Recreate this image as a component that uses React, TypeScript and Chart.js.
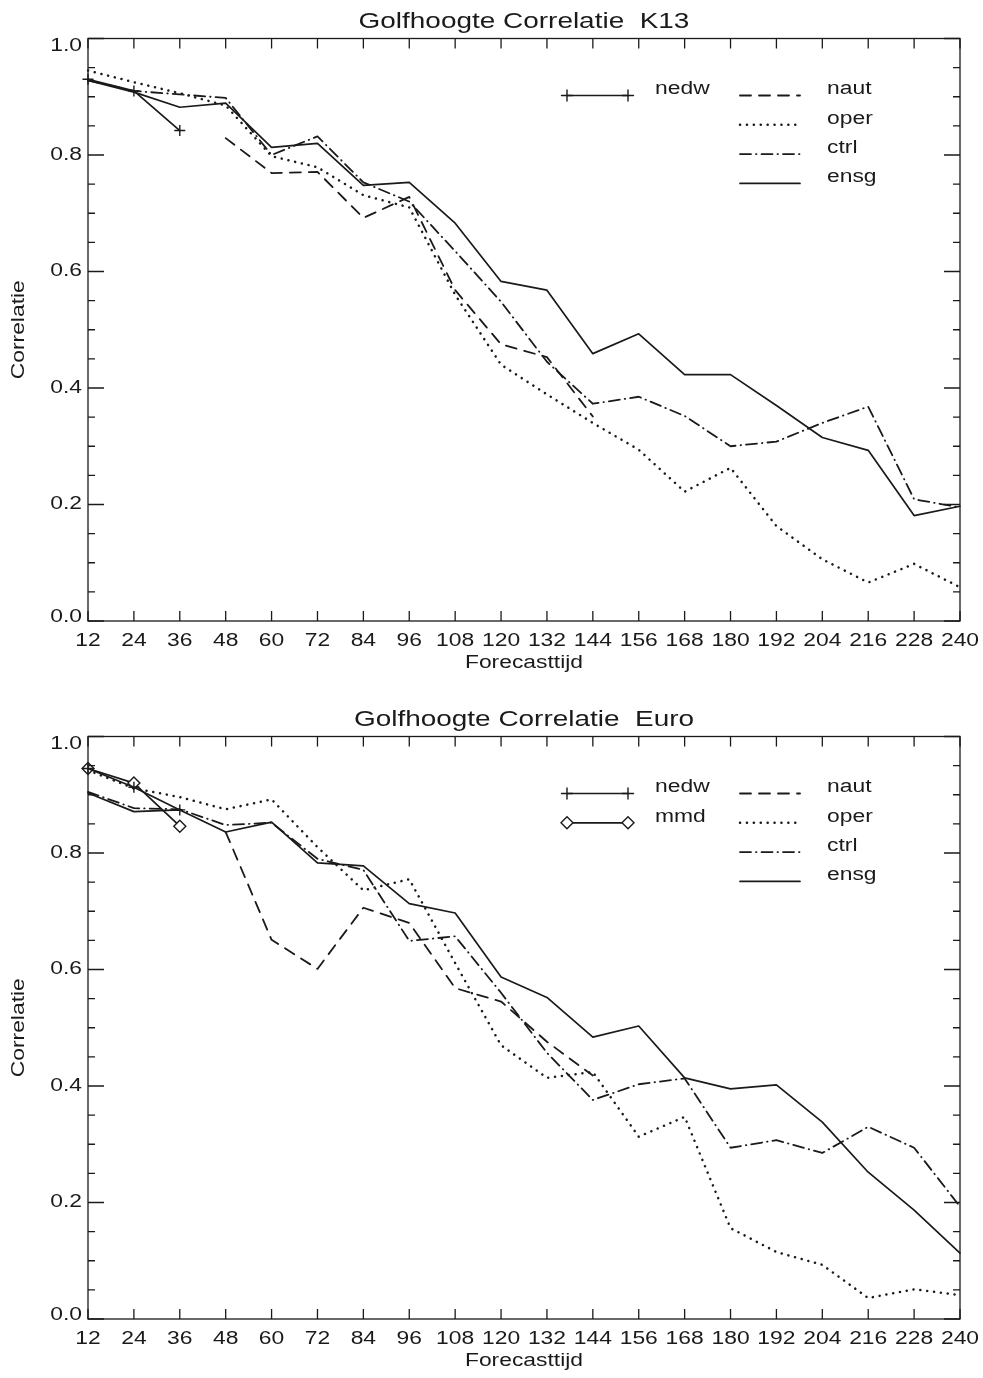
import React, { useEffect, useRef } from "react";
import { Chart, registerables } from "chart.js";

Chart.register(...registerables);

// ---------- data ----------
const hours = [12, 24, 36, 48, 60, 72, 84, 96, 108, 120, 132, 144, 156, 168, 180, 192, 204, 216, 228, 240];

const k13Nedw = [0.93, 0.91, 0.842];
const k13Naut = [null, null, null, 0.829, 0.769, 0.771, 0.692, 0.728, 0.568, 0.475, 0.453, 0.351];
const k13Oper = [0.945, 0.925, 0.906, 0.885, 0.798, 0.779, 0.731, 0.71, 0.56, 0.44, 0.389, 0.34, 0.294, 0.222, 0.263, 0.163, 0.106, 0.066, 0.098, 0.058];
const k13Ctrl = [0.928, 0.91, 0.904, 0.898, 0.8, 0.832, 0.753, 0.72, 0.635, 0.548, 0.445, 0.373, 0.385, 0.352, 0.3, 0.308, 0.34, 0.368, 0.209, 0.195];
const k13Ensg = [0.928, 0.908, 0.882, 0.889, 0.813, 0.82, 0.748, 0.753, 0.683, 0.583, 0.568, 0.459, 0.493, 0.423, 0.423, 0.37, 0.315, 0.293, 0.181, 0.197];

const euroNedw = [0.945, 0.913, 0.874];
const euroMmd = [0.945, 0.92, 0.846];
const euroNaut = [null, null, null, 0.836, 0.651, 0.601, 0.706, 0.68, 0.568, 0.545, 0.476, 0.418];
const euroOper = [0.942, 0.911, 0.896, 0.875, 0.892, 0.81, 0.736, 0.755, 0.611, 0.47, 0.414, 0.424, 0.313, 0.347, 0.156, 0.115, 0.093, 0.036, 0.051, 0.041];
const euroCtrl = [0.905, 0.877, 0.875, 0.848, 0.852, 0.79, 0.771, 0.649, 0.657, 0.56, 0.457, 0.376, 0.403, 0.413, 0.294, 0.307, 0.285, 0.33, 0.294, 0.193];
const euroEnsg = [0.903, 0.871, 0.874, 0.836, 0.853, 0.783, 0.778, 0.713, 0.697, 0.587, 0.552, 0.484, 0.503, 0.414, 0.395, 0.402, 0.338, 0.252, 0.187, 0.113];

const yMin = 0;
const yMax = 1;
const yMajorStep = 0.2;
const yMinorStep = 0.05;

// ---------- styles ----------
const INK = "#1a1a1a";
const FONT = '"Liberation Sans", Arial, Helvetica, sans-serif';
const STRETCH = 1.27;

const styles: Record<string, any> = {
  nedw: { borderDash: [], width: 1.7, pointStyle: "cross", pointRadius: 5.5, marker: true },
  mmd: { borderDash: [], width: 1.7, pointStyle: "rectRot", pointRadius: 6, marker: true },
  naut: { borderDash: [11, 8], width: 1.8, pointRadius: 0 },
  oper: { borderDash: [0.1, 6.8], width: 2.5, pointRadius: 0 },
  ctrl: { borderDash: [11, 5, 0.5, 5], width: 1.8, pointRadius: 0 },
  ensg: { borderDash: [], width: 1.7, pointRadius: 0 },
};

function makeDataset(label: string, data: (number | null)[]) {
  const s = styles[label];
  return {
    label,
    data,
    borderColor: INK,
    backgroundColor: "#ffffff",
    borderWidth: s.width,
    borderDash: s.borderDash,
    borderCapStyle: "round",
    borderJoinStyle: "round",
    pointStyle: s.pointStyle || "circle",
    pointRadius: s.pointRadius,
    pointBorderColor: INK,
    pointBackgroundColor: "#ffffff",
    pointBorderWidth: 1.4,
    tension: 0,
    spanGaps: false,
    fill: false,
    isMarker: !!s.marker,
  };
}

function stretchedText(
  ctx: CanvasRenderingContext2D,
  text: string,
  x: number,
  y: number,
  align: CanvasTextAlign,
  size: number,
  rotate = 0
) {
  ctx.save();
  ctx.translate(x, y);
  if (rotate) ctx.rotate(rotate);
  ctx.scale(STRETCH, 1);
  ctx.font = `${size}px ${FONT}`;
  ctx.fillStyle = INK;
  ctx.textAlign = align;
  ctx.textBaseline = "middle";
  ctx.fillText(text, 0, 0);
  ctx.restore();
}

function drawMarker(ctx: CanvasRenderingContext2D, style: string, x: number, y: number, r: number) {
  ctx.beginPath();
  if (style === "cross") {
    ctx.moveTo(x - r, y);
    ctx.lineTo(x + r, y);
    ctx.moveTo(x, y - r);
    ctx.lineTo(x, y + r);
    ctx.stroke();
  } else {
    ctx.moveTo(x, y - r);
    ctx.lineTo(x + r, y);
    ctx.lineTo(x, y + r);
    ctx.lineTo(x - r, y);
    ctx.closePath();
    ctx.fillStyle = "#ffffff";
    ctx.fill();
    ctx.stroke();
  }
}

const idlPlugin = {
  id: "idlFrame",
  afterDraw(chart: any, _args: any, opts: any) {
    const ctx: CanvasRenderingContext2D = chart.ctx;
    const { left, right, top, bottom } = chart.chartArea;
    const xs = chart.scales.x;
    const ys = chart.scales.y;

    ctx.save();
    ctx.strokeStyle = INK;
    ctx.lineWidth = 1.3;
    ctx.setLineDash([]);
    ctx.strokeRect(left, top, right - left, bottom - top);

    // ticks
    ctx.beginPath();
    xs.ticks.forEach((_t: any, i: number) => {
      const px = xs.getPixelForTick(i);
      ctx.moveTo(px, bottom);
      ctx.lineTo(px, bottom - 10);
      ctx.moveTo(px, top);
      ctx.lineTo(px, top + 10);
    });
    const nMinor = Math.round((ys.max - ys.min) / yMinorStep);
    const perMajor = Math.round(yMajorStep / yMinorStep);
    for (let k = 0; k <= nMinor; k++) {
      const py = ys.getPixelForValue(ys.min + k * yMinorStep);
      const len = k % perMajor === 0 ? 16 : 7;
      ctx.moveTo(left, py);
      ctx.lineTo(left + len, py);
      ctx.moveTo(right, py);
      ctx.lineTo(right - len, py);
    }
    ctx.stroke();

    // tick labels
    xs.ticks.forEach((_t: any, i: number) => {
      const px = xs.getPixelForTick(i);
      stretchedText(ctx, String(xs.getLabelForValue(i)), px, bottom + 20, "center", 18);
    });
    ys.ticks.forEach((t: any) => {
      const py = ys.getPixelForValue(t.value);
      const cy = Math.min(Math.max(py, top + 8), bottom - 4);
      stretchedText(ctx, Number(t.value).toFixed(1), left - 6, cy, "right", 18);
    });

    // titles
    const cx = (left + right) / 2;
    stretchedText(ctx, opts.title, cx, 22, "center", 22);
    stretchedText(ctx, "Forecasttijd", cx, bottom + 42, "center", 18);
    stretchedText(ctx, "Correlatie", 19, (top + bottom) / 2, "center", 18, -Math.PI / 2);

    // legend
    const rowGap = 29.3;
    const firstRow = top + 51;
    let r1 = 0;
    let r2 = 0;
    chart.data.datasets.forEach((ds: any) => {
      let row: number, x0: number, x1: number, tx: number;
      if (ds.isMarker) {
        row = r1++;
        x0 = left + 479;
        x1 = left + 540;
        tx = left + 567;
      } else {
        row = r2++;
        x0 = left + 652;
        x1 = left + 712;
        tx = left + 739;
      }
      const ty = firstRow + row * rowGap;
      const ly = ty + 6;
      ctx.save();
      ctx.strokeStyle = INK;
      ctx.lineWidth = ds.borderWidth;
      ctx.lineCap = "round";
      ctx.setLineDash(ds.borderDash || []);
      ctx.beginPath();
      ctx.moveTo(x0, ly);
      ctx.lineTo(x1, ly);
      ctx.stroke();
      ctx.setLineDash([]);
      ctx.lineWidth = 1.4;
      if (ds.isMarker) {
        drawMarker(ctx, ds.pointStyle, x0, ly, ds.pointRadius);
        drawMarker(ctx, ds.pointStyle, x1, ly, ds.pointRadius);
      }
      ctx.restore();
      stretchedText(ctx, ds.label, tx, ty, "left", 18);
    });

    ctx.restore();
  },
};

function CorrChart(props: { title: string; datasets: any[]; height: number; top: number }) {
  const ref = useRef<HTMLCanvasElement | null>(null);
  useEffect(() => {
    const canvas = ref.current!;
    const chart = new Chart(canvas, {
      type: "line",
      data: {
        labels: hours.map(String),
        datasets: props.datasets,
      },
      options: {
        responsive: false,
        animation: false,
        devicePixelRatio: 1,
        layout: {
          padding: { left: 88, right: 23, top: 38.5, bottom: props.height - 621 },
        },
        plugins: {
          legend: { display: false },
          tooltip: { enabled: false },
          title: { display: false },
          idlFrame: { title: props.title },
        } as any,
        scales: {
          x: {
            type: "category",
            offset: false,
            grid: { display: false },
            border: { display: false },
            ticks: { display: false, autoSkip: false },
            afterFit: (s: any) => {
              s.height = 0;
            },
          },
          y: {
            type: "linear",
            min: yMin,
            max: yMax,
            grid: { display: false },
            border: { display: false },
            ticks: { display: false, stepSize: yMajorStep },
            afterFit: (s: any) => {
              s.width = 0;
            },
          },
        },
      } as any,
      plugins: [idlPlugin as any],
    });
    return () => chart.destroy();
  }, []);
  return (
    <canvas
      ref={ref}
      width={983}
      height={props.height}
      style={{ position: "absolute", left: 0, top: props.top, width: 983, height: props.height, display: "block" }}
    />
  );
}

export default function App() {
  useEffect(() => {
    document.body.style.margin = "0";
    document.body.style.overflow = "hidden";
    document.body.style.background = "#ffffff";
  }, []);

  const k13 = [
    makeDataset("nedw", k13Nedw),
    makeDataset("naut", k13Naut),
    makeDataset("oper", k13Oper),
    makeDataset("ctrl", k13Ctrl),
    makeDataset("ensg", k13Ensg),
  ];
  const euro = [
    makeDataset("nedw", euroNedw),
    makeDataset("mmd", euroMmd),
    makeDataset("naut", euroNaut),
    makeDataset("oper", euroOper),
    makeDataset("ctrl", euroCtrl),
    makeDataset("ensg", euroEnsg),
  ];

  return (
    <div style={{ position: "relative", width: 983, height: 1378, background: "#fff", overflow: "hidden" }}>
      <CorrChart title="Golfhoogte Correlatie  K13" datasets={k13} height={698} top={0} />
      <CorrChart title="Golfhoogte Correlatie  Euro" datasets={euro} height={680} top={698} />
    </div>
  );
}
